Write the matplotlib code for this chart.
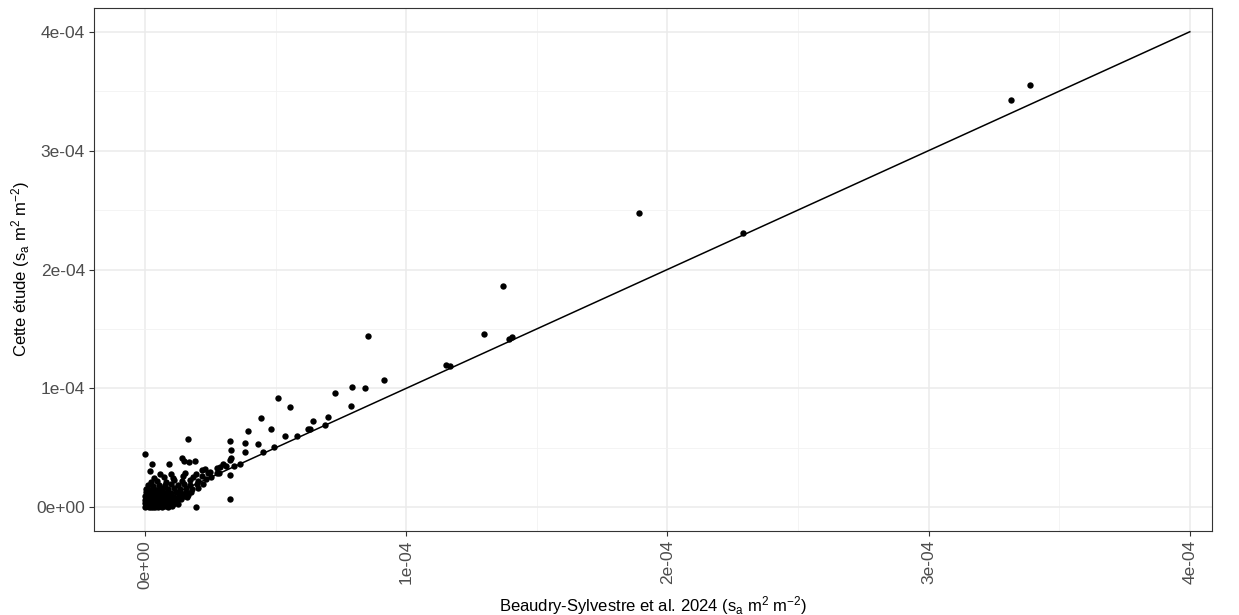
import numpy as np
import matplotlib
matplotlib.use("Agg")
import matplotlib.pyplot as plt

plt.rcParams['font.family'] = ['Liberation Sans', 'DejaVu Sans']
plt.rcParams['mathtext.fontset'] = 'custom'
plt.rcParams['mathtext.rm'] = 'Liberation Sans'
plt.rcParams['mathtext.it'] = 'Liberation Sans'

# values in units of 1e-6 (s_a m2 m-2)
# sparse points
x_sparse = [338.7, 331.4, 189.3, 229.1, 137.2, 129.9, 139.5, 140.4, 115.3, 116.9,
            85.4, 91.6, 79.1, 84.3, 79.0, 72.8, 70.2, 64.4, 68.9, 62.6,
            63.2, 58.2, 53.5, 55.4, 51.1, 44.6, 48.3, 39.5, 49.4, 45.3,
            43.4, 38.2, 38.3, 36.5, 32.5, 32.8, 32.8, 32.5, 32.6, 32.6,
            19.5, 16.6, 0.0, 14.1, 14.8, 9.3, 2.7, 2.0, 16.9, 19.2,
            34.0, 29.9, 30.9, 28.6, 27.7, 24.9, 22.9, 21.7, 28.4, 11.5,
            9.6, 10.8, 16.0]
y_sparse = [355.5, 342.9, 247.9, 230.3, 185.7, 145.4, 141.6, 143.3, 119.3, 118.5,
            143.7, 106.7, 101.4, 100.0, 85.3, 95.8, 75.5, 72.3, 69.5, 65.8,
            66.2, 59.8, 59.7, 84.0, 91.8, 75.4, 66.2, 63.9, 50.8, 46.6,
            53.1, 53.9, 46.8, 36.0, 55.5, 47.9, 41.4, 39.5, 27.5, 7.1,
            0.0, 57.4, 44.5, 41.6, 38.9, 36.1, 36.4, 30.8, 38.1, 38.7,
            35.0, 36.1, 34.7, 33.9, 33.0, 29.7, 32.5, 31.7, 29.2, 4.2,
            2.3, 2.3, 8.7]

# dense cluster near the origin
x_dense = [0.0, 0.7, 1.5, 2.3, 3.1, 4.0, 4.9, 5.8, 6.6, 7.6, 8.8, 10.2,
           0.1, 0.9, 1.8, 2.6, 3.5, 4.4, 5.3, 6.2, 7.1, 8.3, 9.6, 11.2, 12.6,
           0.0, 1.0, 2.0, 3.0, 4.1, 5.1, 6.0, 7.0, 8.1, 9.3, 10.7, 12.2, 13.8,
           0.2, 1.3, 2.4, 3.4, 4.6, 5.7, 6.9, 8.2, 9.7, 11.3, 13.1, 15.0, 16.6,
           0.3, 1.6, 2.9, 4.1, 5.5, 6.9, 8.4, 10.0, 11.8, 13.7, 15.8, 17.7,
           0.5, 2.1, 3.6, 5.3, 7.1, 9.0, 11.1, 13.4, 15.6, 18.0, 20.2,
           1.1, 3.2, 5.2, 7.6, 10.1, 12.6, 15.1, 17.4, 19.8, 22.1,
           2.2, 4.8, 8.1, 11.2, 14.2, 17.3, 20.4, 23.3,
           3.6, 7.3, 10.8, 14.6, 18.3, 21.9, 25.2,
           5.7, 9.8, 15.2, 19.7, 24.3, 27.6]
y_dense = [0.3, 0.8, 0.2, 0.6, 0.1, 0.5, 0.3, 0.9, 0.2, 0.7, 0.4, 1.0,
           3.2, 2.8, 3.5, 2.6, 3.1, 3.7, 2.9, 3.4, 2.7, 3.3, 3.0, 3.8, 2.5,
           6.1, 5.6, 6.4, 5.8, 6.6, 5.9, 6.3, 5.7, 6.5, 6.0, 6.8, 5.9, 6.6,
           9.2, 8.7, 9.6, 8.9, 9.4, 8.6, 9.5, 9.0, 9.8, 8.8, 9.6, 9.1, 10.2,
           12.4, 11.8, 12.7, 11.9, 12.5, 12.0, 12.9, 12.2, 13.0, 12.3, 13.1, 12.6,
           15.3, 14.8, 15.7, 15.0, 15.9, 15.2, 16.0, 15.4, 16.3, 15.6, 16.4,
           18.6, 18.0, 19.0, 18.3, 19.2, 18.5, 19.4, 18.8, 19.6, 19.9,
           21.5, 22.3, 21.2, 22.6, 21.8, 22.9, 22.2, 23.4,
           24.8, 25.6, 24.4, 25.9, 25.1, 26.0, 25.7,
           28.3, 27.6, 28.9, 28.1, 29.0, 28.6]

one_to_one = [0.0, 4e-4]

x_ticks = [0, 1e-4, 2e-4, 3e-4, 4e-4]
tick_labels = ['0e+00', '1e-04', '2e-04', '3e-04', '4e-04']

x = np.array(x_sparse + x_dense) * 1e-6
y = np.array(y_sparse + y_dense) * 1e-6

fig = plt.figure(figsize=(12.39, 6.15), dpi=100)
ax = fig.add_axes([94 / 1239, 1 - 531 / 615, (1212 - 94) / 1239, (531 - 8) / 615])

ax.plot(one_to_one, one_to_one, color='black', lw=1.1, zorder=3)
ax.scatter(x, y, s=21, color='black', linewidths=0, zorder=4)

ax.set_xlim(-1.95e-5, 4.085e-4)
ax.set_ylim(-2e-5, 4.2e-4)
ax.set_xticks(x_ticks)
ax.set_xticklabels(tick_labels, rotation=90, fontsize=12.5, color='#4D4D4D')
ax.set_yticks(x_ticks)
ax.set_yticklabels(tick_labels, fontsize=12.5, color='#4D4D4D')
ax.set_xticks([0.5e-4, 1.5e-4, 2.5e-4, 3.5e-4], minor=True)
ax.set_yticks([0.5e-4, 1.5e-4, 2.5e-4, 3.5e-4], minor=True)
ax.tick_params(which='major', length=3.5, width=0.8, color='#333333', pad=3)
ax.tick_params(which='minor', length=0)

ax.grid(which='major', color='#EBEBEB', lw=1.1, zorder=0)
ax.grid(which='minor', color='#F2F2F2', lw=0.6, zorder=0)
ax.set_axisbelow(True)
for s in ax.spines.values():
    s.set_color('#333333')
    s.set_linewidth(0.8)

ax.set_xlabel('Beaudry-Sylvestre et al. 2024 (s$_\\mathregular{a}$ m$^\\mathregular{2}$ m$^\\mathregular{-2}$)',
              fontsize=12, labelpad=4)
ax.set_ylabel('Cette étude (s$_\\mathregular{a}$ m$^\\mathregular{2}$ m$^\\mathregular{-2}$)',
              fontsize=12, labelpad=3)

fig.savefig('out.png', dpi=100, facecolor='white')
